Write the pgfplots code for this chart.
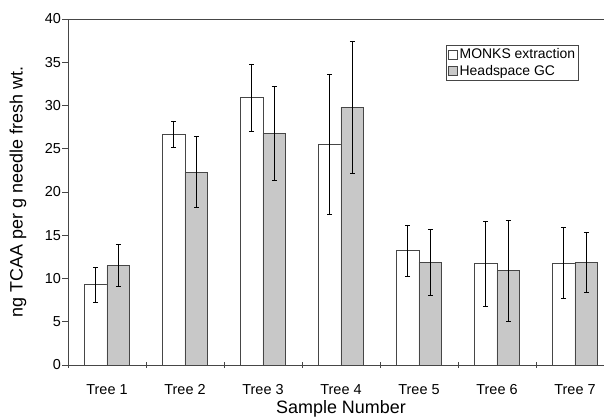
\documentclass[border=0pt]{standalone}
\usepackage{pgfplots}
\pgfplotsset{compat=1.18}
\usepackage{pgfplotstable}
\usepackage{fontspec}
\setmainfont{Liberation Sans}

\definecolor{hsgray}{RGB}{200,200,200}
\definecolor{axgray}{RGB}{70,70,70}

% x = category index, y = mean, e = error (+/-)
\pgfplotstableread{
x  y     e
0  9.3   2.0
1  26.7  1.5
2  30.9  3.9
3  25.5  8.1
4  13.2  3.0
5  11.7  4.9
6  11.8  4.15
}\monks
\pgfplotstableread{
x  y     e
0  11.5  2.4
1  22.3  4.1
2  26.8  5.45
3  29.8  7.6
4  11.9  3.8
5  10.9  5.85
6  11.9  3.45
}\headspace

\begin{document}
\begin{tikzpicture}
\begin{axis}[
    scale only axis,
    width=546bp, height=346bp,
    ybar=0pt, bar width=0.29,
    xmin=-0.5, xmax=6.5,
    ymin=0, ymax=40,
    ytick={0,5,...,40},
    xtick={-0.5,0.5,...,6.5},
    x tick label as interval,
    xticklabels={Tree 1,Tree 2,Tree 3,Tree 4,Tree 5,Tree 6,Tree 7},
    xtick pos=bottom, ytick pos=left,
    tick align=outside, major tick length=5.5bp,
    axis line style={axgray, line width=0.8bp},
    every tick/.style={axgray, line width=0.8bp},
    x tick style={yshift=3bp},
    /pgf/number format/assume math mode=true,
    tick label style={font=\fontsize{14.5}{17}\selectfont},
    xticklabel style={anchor=base, yshift=-24bp},
    yticklabel style={anchor=east, xshift=2bp},
    xlabel={Sample Number},
    ylabel={ng TCAA per g needle fresh wt.},
    every axis x label/.style={at={(axis description cs:0.5,0)}, anchor=base, yshift=-48bp,
        font=\fontsize{18}{21}\selectfont},
    every axis y label/.style={at={(axis description cs:0,0.5)}, xshift=-50bp, rotate=90, anchor=center,
        font=\fontsize{18}{21}\selectfont},
    legend style={at={(0.936,0.925)}, anchor=north east, draw=axgray, line width=0.8bp,
        font=\fontsize{14}{16}\selectfont, inner sep=1.5bp, row sep=1bp, cells={anchor=west}},
    legend image code/.code={\draw[#1, line width=0.6bp] (0bp,-4.5bp) rectangle (9bp,4.5bp);},
    error bars/error bar style={black, line width=0.7bp},
    error bars/error mark options={rotate=90, mark size=2.5bp, black, line width=0.7bp},
]
\addplot[draw=axgray, fill=white, line width=0.8bp,
    error bars/.cd, y dir=both, y explicit]
    table[x=x, y=y, y error=e] {\monks};
\addlegendentry{MONKS extraction}
\addplot[draw=axgray, fill=hsgray, line width=0.8bp,
    error bars/.cd, y dir=both, y explicit]
    table[x=x, y=y, y error=e] {\headspace};
\addlegendentry{Headspace GC}
\end{axis}
\pgfresetboundingbox
\path[use as bounding box] (current axis.south west) ++(-68bp,-54bp) rectangle ++(604bp,419bp);
\end{tikzpicture}
\end{document}
